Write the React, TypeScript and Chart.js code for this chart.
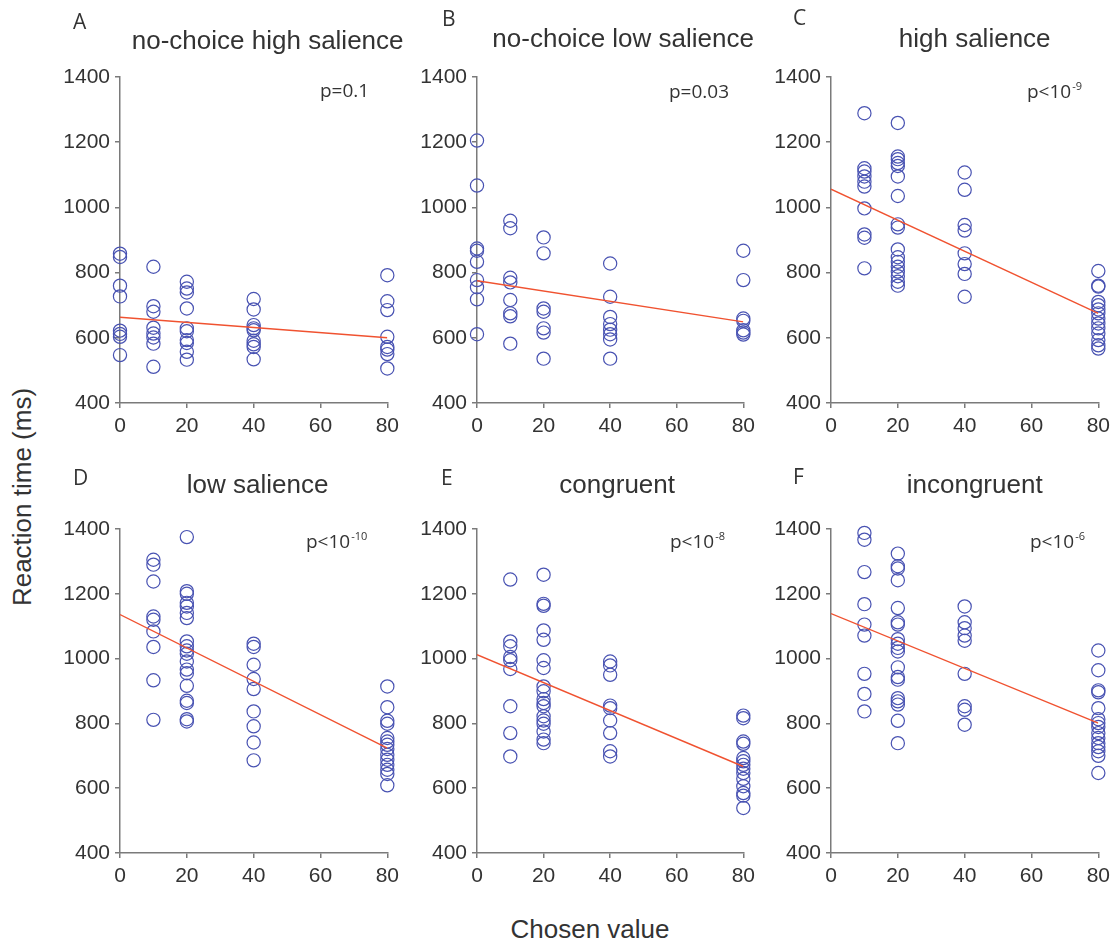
import React, { useEffect, useRef } from "react";
import { Chart, registerables } from "chart.js";

Chart.register(...registerables);

// ---------- data ----------
const chosenValues = [0, 10, 20, 40, 80];
const xTickValues = [0, 20, 40, 60, 80];
const yTickValues = [400, 600, 800, 1000, 1200, 1400];

const panelLetters = ["A", "B", "C", "D", "E", "F"];
const panelTitles = [
  "no-choice high salience",
  "no-choice low salience",
  "high salience",
  "low salience",
  "congruent",
  "incongruent",
];
const pTexts = ["p=0.1", "p=0.03", "p<10", "p<10", "p<10", "p<10"];
const pExponents = ["", "", "-9", "-10", "-8", "-6"];

// reaction times (ms) per chosen value [0, 10, 20, 40, 80]
const rtA = [
  [858, 848, 760, 727, 622, 612, 603, 547],
  [818, 697, 680, 631, 613, 601, 582, 511],
  [772, 751, 739, 690, 629, 620, 593, 584, 557, 533],
  [719, 687, 639, 629, 623, 591, 580, 572, 534],
  [792, 712, 685, 603, 572, 564, 550, 506],
];
const rtB = [
  [1205, 1067, 874, 867, 833, 777, 755, 718, 611],
  [959, 936, 784, 770, 716, 675, 666, 582],
  [908, 859, 690, 680, 629, 616, 536],
  [828, 726, 664, 642, 625, 611, 595, 536],
  [867, 777, 659, 652, 623, 616, 610],
];
const rtC = [
  [],
  [1289, 1120, 1110, 1095, 1079, 1064, 997, 917, 907, 813],
  [1259, 1156, 1148, 1136, 1127, 1095, 1035, 948, 938, 871, 847, 833, 818, 803, 789, 772, 760],
  [1107, 1054, 946, 929, 859, 826, 796, 726],
  [805, 760, 757, 710, 700, 687, 675, 659, 644, 629, 613, 593, 577, 567],
];
const rtD = [
  [],
  [1305, 1290, 1238, 1130, 1120, 1084, 1036, 933, 811],
  [1375, 1208, 1200, 1172, 1161, 1141, 1125, 1053, 1038, 1025, 1015, 991, 966, 955, 916, 870, 863, 813, 806],
  [1046, 1036, 981, 937, 906, 837, 791, 741, 686],
  [914, 850, 808, 799, 755, 744, 734, 721, 703, 688, 672, 657, 644, 609],
];
const rtE = [
  [],
  [1244, 1053, 1038, 1005, 995, 968, 853, 770, 698],
  [1259, 1169, 1163, 1087, 1058, 995, 971, 914, 899, 875, 863, 853, 822, 809, 799, 775, 750, 739],
  [991, 979, 950, 855, 847, 809, 770, 714, 698],
  [824, 816, 744, 737, 693, 683, 672, 660, 647, 629, 606, 585, 577, 539],
];
const rtF = [
  [],
  [1388, 1367, 1267, 1168, 1105, 1071, 953, 891, 837],
  [1324, 1285, 1278, 1242, 1156, 1112, 1105, 1060, 1046, 1033, 1022, 973, 943, 935, 878, 868, 858, 808, 739],
  [1161, 1112, 1094, 1071, 1055, 953, 853, 842, 796],
  [1025, 964, 902, 896, 847, 813, 801, 789, 770, 755, 739, 727, 714, 700, 647],
];
const panelData = [rtA, rtB, rtC, rtD, rtE, rtF];

// regression line values at chosen value 0 and 80
const fitAt0 = [663, 775, 1056, 1136, 1012, 1139];
const fitAt80 = [600, 649, 675, 724, 667, 801];

// ---------- layout / style ----------
const PAD_TOP = 75;
const PAD_RIGHT = 14;
const Y_AXIS_W = 60;
const X_AXIS_H = 35;
const BLUE = "rgb(72, 82, 178)";
const RED = "rgb(240, 82, 48)";
const AXIS = "#7a7a7a";
const TEXT = "#333333";

const panelBoxes = [
  { L: 120, T: 77, W: 271, H: 326, letterDx: -47, letterDy: -48, titleDx: 14, titleDy: -28, pDx: 200, pDy: 20 },
  { L: 477, T: 77, W: 270, H: 326, letterDx: -35, letterDy: -51, titleDx: 13, titleDy: -30, pDx: 192, pDy: 21 },
  { L: 831, T: 77, W: 271, H: 326, letterDx: -38, letterDy: -52, titleDx: 10, titleDy: -30, pDx: 196, pDy: 21 },
  { L: 120, T: 529, W: 271, H: 324, letterDx: -47, letterDy: -44, titleDx: 4, titleDy: -36, pDx: 186, pDy: 19 },
  { L: 477, T: 529, W: 270, H: 324, letterDx: -36, letterDy: -44, titleDx: 7, titleDy: -36, pDx: 193, pDy: 19 },
  { L: 831, T: 529, W: 271, H: 324, letterDx: -38, letterDy: -45, titleDx: 10, titleDy: -36, pDx: 199, pDy: 19 },
];

const panelTextPlugin = {
  id: "panelText",
  afterDraw(chart: any, _args: any, opts: any) {
    const { ctx, chartArea } = chart;
    const { left, top, width } = chartArea;
    ctx.save();
    ctx.fillStyle = TEXT;
    ctx.textBaseline = "alphabetic";
    ctx.textAlign = "left";
    ctx.font = "21px 'Open Sans'";
    ctx.fillText(opts.letter, left + opts.letterDx, top + opts.letterDy);
    ctx.font = "26px 'Liberation Sans'";
    ctx.textAlign = "center";
    ctx.fillText(opts.title, left + width / 2 + opts.titleDx, top + opts.titleDy);
    ctx.textAlign = "left";
    ctx.font = "19px 'Open Sans'";
    const px = left + opts.pDx;
    const py = top + opts.pDy;
    ctx.fillText(opts.p, px, py);
    if (opts.exp) {
      const w = ctx.measureText(opts.p).width;
      ctx.font = "11px 'Open Sans'";
      ctx.fillText(opts.exp, px + w + 1, py - 8);
    }
    ctx.restore();
  },
};

function Panel({ index }: { index: number }) {
  const ref = useRef<HTMLCanvasElement | null>(null);
  const box = panelBoxes[index];
  const cw = Y_AXIS_W + box.W + PAD_RIGHT;
  const ch = PAD_TOP + box.H + X_AXIS_H;

  useEffect(() => {
    if (!ref.current) return;
    const rts = panelData[index];
    const points: { x: number; y: number }[] = [];
    chosenValues.forEach((cv, k) => {
      (rts[k] || []).forEach((v) => points.push({ x: cv, y: v }));
    });
    const tickFont = { family: "'Liberation Sans', Arial, sans-serif", size: 21 };
    const plain = (v: any) => String(v);
    const chart = new Chart(ref.current, {
      type: "scatter",
      data: {
        datasets: [
          {
            type: "line",
            data: [
              { x: chosenValues[0], y: fitAt0[index] },
              { x: chosenValues[chosenValues.length - 1], y: fitAt80[index] },
            ],
            borderColor: RED,
            borderWidth: 1.4,
            pointRadius: 0,
            fill: false,
            order: 0,
          } as any,
          {
            type: "scatter",
            data: points,
            pointStyle: "circle",
            pointRadius: 6.6,
            borderWidth: 1.2,
            borderColor: BLUE,
            backgroundColor: "rgba(0,0,0,0)",
            clip: false,
            order: 1,
          } as any,
        ],
      },
      options: {
        responsive: false,
        animation: false,
        devicePixelRatio: 1,
        layout: { padding: { left: 0, top: PAD_TOP, right: PAD_RIGHT, bottom: 0 } },
        plugins: {
          legend: { display: false },
          tooltip: { enabled: false },
          panelText: {
            letter: panelLetters[index],
            title: panelTitles[index],
            p: pTexts[index],
            exp: pExponents[index],
            letterDx: box.letterDx,
            letterDy: box.letterDy,
            titleDx: box.titleDx,
            titleDy: box.titleDy,
            pDx: box.pDx,
            pDy: box.pDy,
          },
        } as any,
        scales: {
          x: {
            type: "linear",
            min: 0,
            max: 80,
            afterFit: (s: any) => {
              s.height = X_AXIS_H;
            },
            afterBuildTicks: (s: any) => {
              s.ticks = xTickValues.map((v) => ({ value: v }));
            },
            ticks: { font: tickFont, color: TEXT, padding: 6, maxRotation: 0, callback: plain },
            grid: { drawOnChartArea: false, drawTicks: true, tickLength: 5, color: AXIS, lineWidth: 1.5 },
            border: { display: true, color: AXIS, width: 1.5 },
          },
          y: {
            type: "linear",
            min: 400,
            max: 1400,
            afterFit: (s: any) => {
              s.width = Y_AXIS_W;
            },
            afterBuildTicks: (s: any) => {
              s.ticks = yTickValues.map((v) => ({ value: v }));
            },
            ticks: { font: tickFont, color: TEXT, padding: 5, callback: plain },
            grid: { drawOnChartArea: false, drawTicks: true, tickLength: 5, color: AXIS, lineWidth: 1.5 },
            border: { display: true, color: AXIS, width: 1.5 },
          },
        },
      } as any,
      plugins: [panelTextPlugin as any],
    });
    return () => chart.destroy();
  }, [index]);

  return (
    <canvas
      ref={ref}
      width={cw}
      height={ch}
      style={{
        position: "absolute",
        left: box.L - Y_AXIS_W,
        top: box.T - PAD_TOP,
        width: cw,
        height: ch,
      }}
    />
  );
}

export default function App() {
  return (
    <div
      style={{
        position: "absolute",
        left: 0,
        top: 0,
        width: 1118,
        height: 945,
        overflow: "hidden",
        background: "#ffffff",
        fontFamily: "'Liberation Sans', Arial, sans-serif",
      }}
    >
      {panelBoxes.map((_, i) => (
        <Panel key={i} index={i} />
      ))}
      <div
        style={{
          position: "absolute",
          left: 22 - 130,
          top: 497 - 13,
          width: 260,
          height: 26,
          lineHeight: "26px",
          fontSize: 26,
          color: TEXT,
          textAlign: "center",
          whiteSpace: "nowrap",
          transform: "rotate(-90deg)",
          transformOrigin: "50% 50%",
        }}
      >
        Reaction time (ms)
      </div>
      <div
        style={{
          position: "absolute",
          left: 590 - 130,
          top: 916,
          width: 260,
          height: 26,
          lineHeight: "26px",
          fontSize: 26,
          color: TEXT,
          textAlign: "center",
          whiteSpace: "nowrap",
        }}
      >
        Chosen value
      </div>
    </div>
  );
}
